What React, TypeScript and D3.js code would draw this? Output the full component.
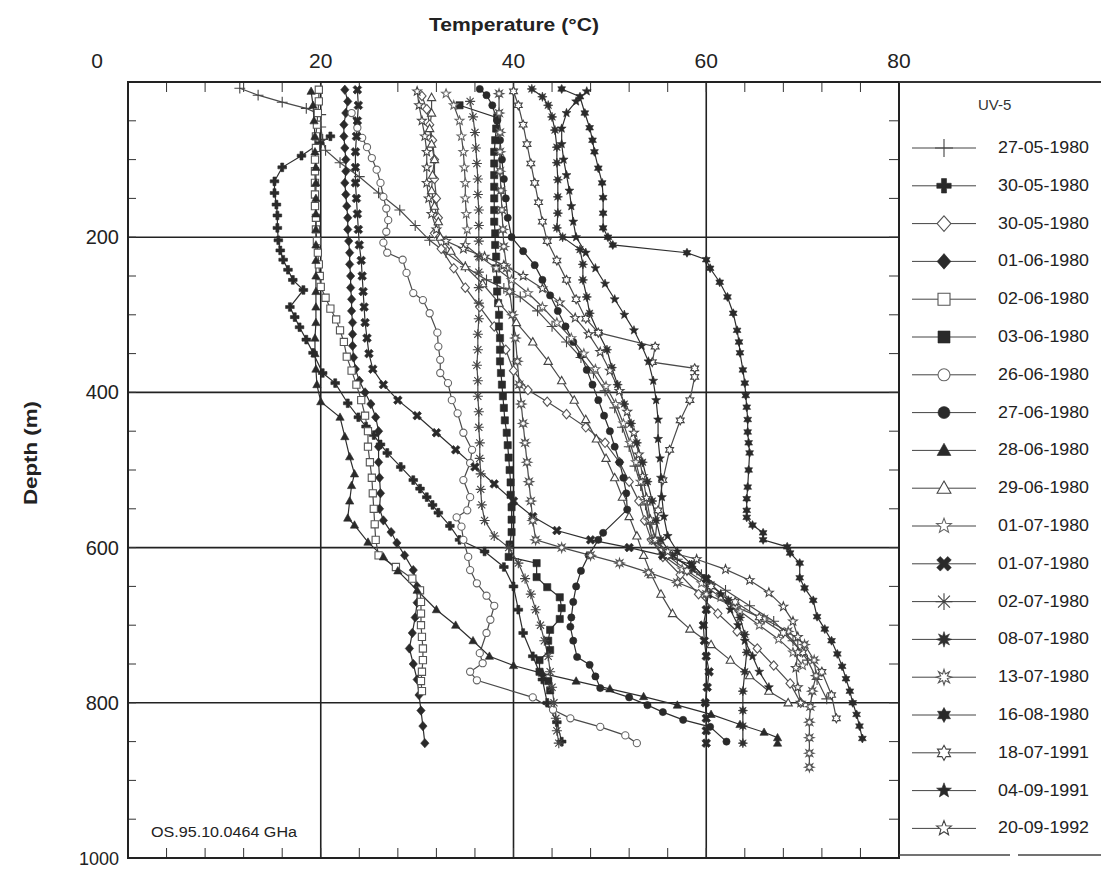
import React from "react";
import * as d3 from "d3";

// ---------- DATA (temperature °C, depth m) ----------
const xTicks = [0, 20, 40, 60, 80];
const yTicks = [200, 400, 600, 800, 1000];
const legendTitle = "UV-5";
const dates = [
  "27-05-1980", "30-05-1980", "30-05-1980", "01-06-1980", "02-06-1980",
  "03-06-1980", "26-06-1980", "27-06-1980", "28-06-1980", "29-06-1980",
  "01-07-1980", "01-07-1980", "02-07-1980", "08-07-1980", "13-07-1980",
  "16-08-1980", "18-07-1991", "04-09-1991", "20-09-1992",
];

const s01 = [[11.6,8],[13.5,17],[16,26],[18.5,34],[20,42],[20,58],[20.2,74],[20.5,88],[22,104],[24,122],[26,143],[28.2,165],[29.8,185],[31.3,204],[33,220],[35,238],[37.2,255],[39,266],[40.7,277],[42.5,295],[44,315],[45.5,335],[47,355],[48.3,375],[49.5,398],[50.5,420],[51.3,445],[52,470],[52.6,495],[53.2,520],[53.7,545],[54.2,570],[55,595],[57,615],[59.5,635],[62,655],[64.5,675],[67,695],[69,720],[70.5,745],[71.5,770],[72.5,795]];
const s02 = [[21,70],[19.9,79],[18,95],[16,110],[15.2,128],[15.2,143],[15.4,158],[15.5,172],[15.5,188],[15.6,204],[15.8,217],[16.1,229],[16.6,242],[17.1,255],[18.2,268],[16.8,290],[17.3,303],[17.8,316],[18.5,332],[19.2,349],[20.2,375],[21.5,388],[22.8,414],[23.9,432],[24.7,444],[25.5,455],[26.2,467],[26.9,478],[28.3,496],[29.6,513],[30.3,524],[31,535],[31.6,545],[32.2,555],[33.4,572],[34.4,590],[37,605],[39,625],[40,650],[40.5,680],[41,710],[42,740],[43,770],[43.5,800],[44.5,825],[45,850]];
const s03 = [[30.5,18],[31,35],[31.3,55],[31.6,75],[31.8,100],[31.8,125],[32,150],[32.2,175],[31.8,195],[32.5,215],[33.8,240],[35,265],[36.5,290],[38,315],[39.2,345],[40,372],[41.5,397],[43.5,412],[45.5,428],[47.5,445],[49.5,465],[51,490],[52,515],[53,540],[53.6,565],[54.3,590],[55.5,612],[57.3,635],[59.2,660],[61.2,685],[63.2,708],[65.3,730],[67,752],[68.7,775],[69.8,800]];
const s04 = [[22.5,10],[22.8,25],[22.6,40],[22.4,55],[22.4,70],[22.5,85],[22.6,100],[22.6,115],[22.5,130],[22.6,145],[22.7,160],[22.8,175],[22.8,190],[22.9,205],[23,220],[23,235],[23.1,250],[23.1,265],[23.2,280],[23.2,295],[23.3,310],[23.3,325],[23.3,340],[23.4,355],[23.6,370],[24,385],[24.6,400],[25.2,415],[25.7,432],[26,450],[26,470],[26,490],[26.1,510],[26.2,530],[26.1,550],[26.5,565],[27.3,580],[27.9,594],[28.7,610],[29.6,629],[30,650],[30,671],[29.8,690],[29.5,710],[29.2,730],[29.6,750],[30,770],[30.2,790],[30.4,810],[30.6,830],[30.8,852]];
const s05 = [[19.8,10],[19.8,25],[19.7,40],[19.6,55],[19.5,70],[19.5,85],[19.4,100],[19.4,115],[19.4,130],[19.4,145],[19.4,160],[19.5,175],[19.5,190],[19.6,205],[19.7,220],[19.8,235],[19.9,250],[20,264],[20.5,278],[21,292],[21.6,306],[22,320],[22.4,335],[22.7,354],[23.2,372],[23.7,390],[24.2,410],[24.6,430],[24.9,450],[24.9,470],[25.1,490],[25.3,510],[25.4,530],[25.5,550],[25.6,570],[25.7,590],[26,610],[27.8,625],[29.5,640],[30.3,655],[30.4,670],[30.4,685],[30.4,700],[30.5,715],[30.6,730],[30.6,745],[30.5,760],[30.4,772],[30.5,785]];
const s06 = [[34.4,30],[38.3,46],[38.2,60],[38.1,75],[38,90],[38,105],[38,120],[38,135],[38,150],[38,165],[38,180],[38.1,195],[38.1,210],[38.2,225],[38.2,240],[38.3,255],[38.3,270],[38.4,285],[38.5,300],[38.5,315],[38.6,330],[38.6,345],[38.6,360],[38.7,375],[38.8,390],[38.9,405],[39,420],[39.1,436],[39.3,452],[39.4,468],[39.5,484],[39.6,500],[39.7,516],[39.7,532],[39.8,548],[39.8,564],[39.8,580],[39.6,596],[39.5,612],[42.4,620],[42.4,638],[43.5,651],[44.8,664],[45,678],[44.8,692],[43.8,706],[43.6,720],[43.8,732],[42.7,745],[42.7,760],[43.6,772],[43.8,784]];
const s07 = [[23.2,40],[23.8,59],[24.3,72],[24.8,84],[25.3,98],[25.8,113],[26.2,130],[26.5,148],[26.8,163],[27,178],[26.8,193],[26.5,207],[26.9,220],[28.5,229],[28.9,246],[29.6,272],[30.6,281],[31.3,298],[32.1,323],[32.2,341],[32.4,358],[32.4,375],[33.2,388],[33.6,410],[34.2,427],[34.8,452],[35.7,474],[35.5,491],[34.8,513],[35.5,535],[35.2,552],[34.1,561],[34.6,573],[34.8,590],[35.3,612],[35.5,629],[36.2,646],[37.2,662],[38,675],[37.6,693],[37.2,710],[36.5,736],[36.8,749],[35.5,760],[36.2,771],[42,793],[44.1,809],[45.9,820],[49,831],[51.6,842],[52.8,852]];
const s08 = [[36.5,9],[37.2,17],[37.8,30],[38.3,50],[38.6,75],[38.8,100],[39,125],[39.2,150],[39.4,175],[39.8,200],[41,218],[42.2,236],[43,255],[43.8,275],[44.6,295],[45.4,315],[46.2,335],[47,352],[47.6,371],[48.2,390],[48.8,410],[49.4,430],[50,450],[50.5,470],[51,490],[51.4,510],[51.7,530],[51.8,551],[49.3,581],[48.8,590],[47.8,610],[47,630],[46.5,650],[46.2,670],[46,690],[45.9,702],[46.2,720],[46.6,741],[47.9,751],[48.5,766],[49,781],[52,793],[53.9,803],[55.5,812],[57.6,822],[60.4,831],[62.1,850]];
const s09 = [[19,12],[19.2,30],[19.3,50],[19.4,70],[19.4,90],[19.5,110],[19.5,130],[19.5,150],[19.5,170],[19.5,190],[19.5,210],[19.5,230],[19.5,250],[19.5,270],[19.5,290],[19.5,310],[19.4,330],[19.4,350],[19.5,370],[19.6,390],[20,412],[22,432],[22.5,457],[23,483],[23.5,505],[23.2,520],[23,540],[22.8,562],[23.5,571],[24.9,593],[26.5,612],[28,630],[30,655],[32,680],[34,700],[35.8,720],[37.5,740],[40,752],[43,762],[46.5,772],[50,782],[53.5,792],[57,803],[60.5,815],[63.5,828],[66,838],[67.4,845],[67.4,852]];
const s10 = [[31.5,20],[31.5,40],[31.3,60],[31.5,80],[31.8,100],[31.6,120],[31.5,140],[31.8,160],[32.2,180],[32.4,200],[33.5,218],[35,238],[36.8,260],[38.5,285],[40.3,310],[42,335],[43.6,360],[45,385],[46.3,410],[47.5,435],[48.6,460],[49.6,485],[50.5,510],[51.3,535],[52,560],[52.8,585],[53.5,610],[54.3,635],[55.3,660],[56.5,685],[58.3,705],[60.5,725],[62.5,745],[64.5,765],[66.5,785],[68.5,800]];
const s11 = [[33,15],[33.8,30],[34.4,50],[34.6,70],[34.8,90],[34.9,110],[35,130],[35,150],[35.1,170],[35.2,190],[35,210],[36.5,225],[38.2,240],[39.8,255],[41.5,272],[43,290],[44.5,310],[46,330],[47.3,350],[48.5,370],[49.6,392],[50.6,415],[51.4,440],[52.1,465],[52.7,490],[53.2,515],[53.6,540],[54,565],[54.4,590],[55.5,610],[57.5,628],[59.5,646],[61.5,664],[63.5,682],[65.5,700],[67.5,718],[69,735],[70,752]];
const s12 = [[23.8,10],[23.9,30],[23.8,50],[23.7,70],[23.6,90],[23.6,110],[23.6,130],[23.7,150],[23.8,170],[23.9,190],[24,210],[24.2,230],[24.3,250],[24.4,270],[24.5,290],[24.6,310],[24.8,330],[25,350],[25.4,370],[26.5,390],[28,410],[30,430],[32,452],[34,474],[36,496],[38,518],[40,540],[42,560],[44.5,578],[48,590],[52,600],[55.5,610],[58.5,622],[60,640],[60.2,660],[60,680],[59.7,700],[59.8,720],[60,740],[60.3,760],[60.1,780],[59.9,800],[60,820],[60,836],[60,852]];
const s13 = [[35.5,25],[35.8,45],[36,65],[36.1,85],[36.2,105],[36.3,125],[36.3,145],[36.4,165],[36.4,185],[36.4,205],[36.4,225],[36.4,245],[36.4,265],[36.4,285],[36.4,305],[36.3,325],[36.3,345],[36.2,365],[36.3,385],[36.3,405],[36.4,425],[36.4,445],[36.5,465],[36.5,485],[36.6,505],[36.6,525],[36.7,545],[37,565],[38,585],[39.5,600],[40.5,620],[41.2,640],[41.8,660],[42.3,680],[42.8,700],[43.2,720],[43.6,740],[43.8,760],[44,780],[44.2,800],[44.4,820],[44.5,836],[44.7,852]];
const s14 = [[41.9,9],[43,19],[43.6,30],[44,45],[44.3,62],[44.5,84],[44.5,104],[44.6,126],[44.6,148],[44.6,169],[44.5,188],[45.1,200],[46.9,216],[47.2,235],[47.2,255],[47.6,277],[47.9,298],[48.8,323],[49.7,345],[50.2,368],[50.8,390],[51.5,415],[52.2,440],[52.8,465],[53.4,490],[53.9,515],[54.4,540],[54.8,565],[55.3,590],[56.5,610],[58.5,628],[60.5,648],[62.3,668],[63.5,690],[64,712],[64.2,735],[64,760],[63.8,785],[63.8,810],[63.8,830],[63.8,852]];
const s15 = [[38.5,15],[38.5,40],[38.6,65],[38.6,90],[38.6,115],[38.7,140],[38.8,165],[38.9,190],[39,212],[39.3,240],[39.6,270],[39.9,300],[40.2,330],[40.4,360],[40.6,390],[40.8,415],[41,440],[41.2,465],[41.4,490],[41.6,515],[41.8,540],[42,565],[42.3,590],[45,600],[48,610],[51,620],[54,632],[57,645],[60,660],[63,676],[66,692],[68.5,708],[70.2,725],[71.2,745],[71.4,765],[71,785],[70.8,805],[70.7,825],[70.7,845],[70.7,865],[70.7,883]];
const s16 = [[45,9],[46.9,19],[47.4,40],[47.9,59],[48.2,75],[48.4,90],[48.8,111],[49.2,130],[49.3,149],[49.3,169],[49.3,188],[49.8,200],[50.3,210],[58,220],[60,229],[60.4,240],[61.4,258],[62.2,277],[62.8,298],[63.2,320],[63.4,335],[63.5,349],[63.8,371],[64,388],[64.1,404],[64.2,419],[64.3,435],[64.3,451],[64.4,465],[64.5,478],[64.4,500],[64.3,522],[64.2,537],[64.2,552],[64.2,561],[64.8,571],[65.9,581],[65.9,590],[68.4,599],[68.7,607],[69.7,620],[69.7,639],[70.2,652],[71.1,668],[71.5,689],[72.3,705],[73,720],[73.6,737],[74.1,753],[74.5,769],[74.9,785],[75.2,800],[75.6,815],[75.9,830],[76.2,846]];
const s17 = [[40,12],[40.5,30],[41,55],[41.4,80],[41.8,105],[42.2,130],[42.6,155],[43,180],[43.5,205],[44.5,230],[45.5,255],[46.5,280],[47.5,305],[48.8,323],[54.7,341],[54.4,361],[58.8,369],[58.8,380],[58.3,410],[57.3,436],[56.2,474],[55.5,513],[55,552],[54.7,590],[56,610],[58,630],[60.5,650],[63,670],[65.5,690],[68,710],[70,735],[72,760],[73,790],[73.5,820]];
const s18 = [[47.6,12],[46.5,25],[45.5,40],[45,60],[45,80],[45.2,100],[45.5,120],[45.8,140],[46,160],[46.2,180],[46.5,200],[47.5,220],[48.5,240],[49.5,260],[50.5,280],[51.5,300],[52.5,320],[53.3,340],[54,360],[54.5,385],[54.8,410],[55,435],[55,460],[55.2,485],[55.3,510],[55.4,535],[55.6,560],[56,585],[57,605],[58.5,622],[60,640],[61.5,660],[62.5,680],[63.3,700],[64,720],[64.8,740],[65.5,760],[66.5,780]];
const s19 = [[30,12],[30.2,30],[30.5,50],[30.8,70],[31,90],[31,110],[31,130],[31.2,150],[31.5,170],[32,190],[33,205],[34.8,215],[37,225],[39,236],[41,250],[43,266],[44.8,284],[46.4,304],[47.8,325],[49,348],[50,372],[51,398],[51.8,425],[52.5,452],[53,480],[53.4,508],[53.8,536],[54.2,564],[54.7,590],[56,605],[59,615],[62,628],[64.5,642],[66.5,658],[68,676],[69,695],[69.5,715],[69.5,735],[69.3,755],[69.5,780],[69.8,800]];

const seriesValues = [s01, s02, s03, s04, s05, s06, s07, s08, s09, s10, s11, s12, s13, s14, s15, s16, s17, s18, s19];

// ---------- STYLE ----------
type Mk = { shape: string; filled: boolean; color: string };
const markerStyles: Mk[] = [
  { shape: "plusThin", filled: false, color: "#444" },
  { shape: "plusThick", filled: true, color: "#2a2a2a" },
  { shape: "diamond", filled: false, color: "#555" },
  { shape: "diamond", filled: true, color: "#2a2a2a" },
  { shape: "square", filled: false, color: "#555" },
  { shape: "square", filled: true, color: "#2a2a2a" },
  { shape: "circle", filled: false, color: "#666" },
  { shape: "circle", filled: true, color: "#2a2a2a" },
  { shape: "triangle", filled: true, color: "#2a2a2a" },
  { shape: "triangle", filled: false, color: "#444" },
  { shape: "star5", filled: false, color: "#666" },
  { shape: "xThick", filled: true, color: "#2a2a2a" },
  { shape: "asterisk", filled: false, color: "#444" },
  { shape: "burst", filled: true, color: "#303030" },
  { shape: "burst", filled: false, color: "#555" },
  { shape: "star6", filled: true, color: "#2a2a2a" },
  { shape: "star6", filled: false, color: "#444" },
  { shape: "star5", filled: true, color: "#2a2a2a" },
  { shape: "star5", filled: false, color: "#444" },
];

function poly(pts: number[][]) {
  return "M" + pts.map((p) => p[0].toFixed(2) + "," + p[1].toFixed(2)).join("L") + "Z";
}
function starPts(n: number, ro: number, ri: number, rot = -Math.PI / 2) {
  const out: number[][] = [];
  for (let i = 0; i < n * 2; i++) {
    const r = i % 2 === 0 ? ro : ri;
    const a = rot + (i * Math.PI) / n;
    out.push([r * Math.cos(a), r * Math.sin(a)]);
  }
  return out;
}
function crossPts(r: number, w: number, rot: number) {
  const base = [[-w, -r], [w, -r], [w, -w], [r, -w], [r, w], [w, w], [w, r], [-w, r], [-w, w], [-r, w], [-r, -w], [-w, -w]];
  const c = Math.cos(rot), s = Math.sin(rot);
  return base.map(([x, y]) => [x * c - y * s, x * s + y * c]);
}
function markerPath(shape: string, r: number): string {
  switch (shape) {
    case "circle":
      return `M${r},0A${r},${r} 0 1,1 ${-r},0A${r},${r} 0 1,1 ${r},0Z`;
    case "square":
      return `M${-r},${-r}H${r}V${r}H${-r}Z`;
    case "diamond":
      return poly([[0, -r * 1.3], [r * 1.15, 0], [0, r * 1.3], [-r * 1.15, 0]]);
    case "triangle":
      return poly([[0, -r * 1.2], [r * 1.15, r * 0.85], [-r * 1.15, r * 0.85]]);
    case "star5":
      return poly(starPts(5, r * 1.3, r * 0.55));
    case "star6":
      return poly(starPts(6, r * 1.25, r * 0.7));
    case "burst":
      return poly(starPts(8, r * 1.3, r * 0.6));
    case "plusThick":
      return poly(crossPts(r * 1.2, r * 0.42, 0));
    case "xThick":
      return poly(crossPts(r * 1.3, r * 0.42, Math.PI / 4));
    case "plusThin":
      return `M${-r * 1.5},0H${r * 1.5}M0,${-r * 1.5}V${r * 1.5}`;
    case "asterisk": {
      let d = "";
      for (let k = 0; k < 4; k++) {
        const a = (k * Math.PI) / 4;
        const dx = Math.cos(a) * r * 1.4, dy = Math.sin(a) * r * 1.4;
        d += `M${(-dx).toFixed(2)},${(-dy).toFixed(2)}L${dx.toFixed(2)},${dy.toFixed(2)}`;
      }
      return d;
    }
  }
  return "";
}
function Marker({ m, x, y, r }: { m: Mk; x: number; y: number; r: number }) {
  const strokeOnly = m.shape === "plusThin" || m.shape === "asterisk";
  return (
    <path
      d={markerPath(m.shape, r)}
      transform={`translate(${x.toFixed(2)},${y.toFixed(2)})`}
      fill={strokeOnly ? "none" : m.filled ? m.color : "#fff"}
      stroke={m.color}
      strokeWidth={strokeOnly ? 1.1 : m.filled ? 0.6 : 1.1}
    />
  );
}

const W = 1101, H = 870;
const FONT = "'Liberation Sans', Arial, Helvetica, sans-serif";

export default function App() {
  const x = d3.scaleLinear().domain([0, 80]).range([128, 899]);
  const y = d3.scaleLinear().domain([0, 1000]).range([82, 858]);
  const line = d3.line<number[]>().x((d) => x(d[0])).y((d) => y(d[1]));

  const minorX = d3.range(0, 81, 4);
  const minorY = d3.range(0, 1001, 50);
  const legendY0 = 148, legendStep = 37.8;

  return (
    <svg width={W} height={H} style={{ position: "absolute", left: 0, top: 0, background: "#fff" }}>
      <rect x={0} y={0} width={W} height={H} fill="#fff" />
      {/* titles */}
      <text x={514} y={31} textAnchor="middle" fontFamily={FONT} fontWeight="bold" fontSize={18} fill="#222"
        textLength={170} lengthAdjust="spacingAndGlyphs">
        Temperature (°C)
      </text>
      <text transform="translate(37,453) rotate(-90)" textAnchor="middle" fontFamily={FONT} fontWeight="bold" fontSize={18} fill="#222"
        textLength={104} lengthAdjust="spacingAndGlyphs">
        Depth (m)
      </text>
      {/* x tick labels */}
      {xTicks.map((t) => (
        <text key={"xt" + t} x={t === 0 ? 97 : x(t)} y={68} textAnchor="middle" fontFamily={FONT} fontSize={21} fill="#222">
          {t}
        </text>
      ))}
      {yTicks.map((t) => (
        <text key={"yt" + t} x={119} y={y(t) + 7} textAnchor="end" fontFamily={FONT} fontSize={t === 1000 ? 18 : 20} fill="#222">
          {t}
        </text>
      ))}
      {/* grid */}
      {[20, 40, 60].map((t) => (
        <line key={"gx" + t} x1={x(t)} x2={x(t)} y1={y(0)} y2={y(1000)} stroke="#222" strokeWidth={1.6} />
      ))}
      {[200, 400, 600, 800].map((t) => (
        <line key={"gy" + t} x1={x(0)} x2={x(80)} y1={y(t)} y2={y(t)} stroke="#222" strokeWidth={1.6} />
      ))}
      {/* minor ticks */}
      {minorX.map((t) => (
        <g key={"mx" + t}>
          <line x1={x(t)} x2={x(t)} y1={y(0)} y2={y(0) + 10} stroke="#333" strokeWidth={1} />
          <line x1={x(t)} x2={x(t)} y1={y(1000)} y2={y(1000) - 10} stroke="#333" strokeWidth={1} />
        </g>
      ))}
      {minorY.map((t) => (
        <g key={"my" + t}>
          <line x1={x(0)} x2={x(0) + 8} y1={y(t)} y2={y(t)} stroke="#333" strokeWidth={1} />
          <line x1={x(80)} x2={x(80) - 10} y1={y(t)} y2={y(t)} stroke="#333" strokeWidth={1} />
        </g>
      ))}
      {/* series */}
      {seriesValues.map((vals, i) => (
        <path key={"l" + i} d={line(vals as number[][]) || ""} fill="none" stroke={markerStyles[i].filled ? "#2e2e2e" : "#4a4a4a"} strokeWidth={1.2} />
      ))}
      {seriesValues.map((vals, i) => (
        <g key={"m" + i}>
          {(vals as number[][]).map((p, j) => (
            <Marker key={j} m={markerStyles[i]} x={x(p[0])} y={y(p[1])} r={3.6} />
          ))}
        </g>
      ))}
      {/* frame */}
      <rect x={x(0)} y={y(0)} width={x(80) - x(0)} height={y(1000) - y(0)} fill="none" stroke="#222" strokeWidth={2} />
      <line x1={x(80)} x2={W} y1={y(0)} y2={y(0)} stroke="#333" strokeWidth={2} />
      <line x1={x(80)} x2={1010} y1={855} y2={855} stroke="#444" strokeWidth={1.5} />
      <line x1={1018} x2={W} y1={855} y2={855} stroke="#444" strokeWidth={1.5} />
      <text x={151} y={837} fontFamily={FONT} fontSize={14} fill="#222" textLength={146} lengthAdjust="spacingAndGlyphs">
        OS.95.10.0464 GHa
      </text>
      {/* legend */}
      <text x={978} y={110} fontFamily={FONT} fontSize={15} fill="#333">{legendTitle}</text>
      {dates.map((dt, i) => {
        const ly = legendY0 + i * legendStep;
        return (
          <g key={"lg" + i}>
            <line x1={912} x2={976} y1={ly} y2={ly} stroke="#444" strokeWidth={1} />
            <Marker m={markerStyles[i]} x={944} y={ly} r={6} />
            <text x={998} y={ly + 5} fontFamily={FONT} fontSize={16} fill="#222" textLength={91} lengthAdjust="spacingAndGlyphs">{dt}</text>
          </g>
        );
      })}
    </svg>
  );
}
